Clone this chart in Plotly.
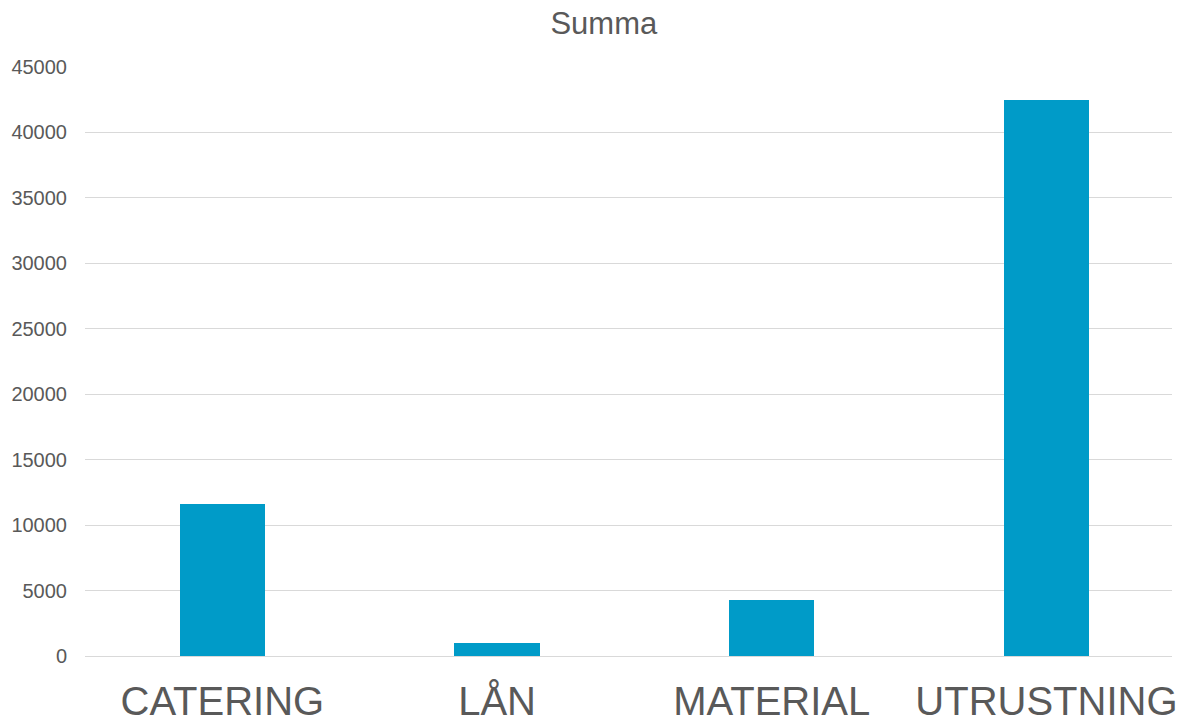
import plotly.graph_objects as go

categories = ["CATERING", "LÅN", "MATERIAL", "UTRUSTNING"]
values = [11600, 1000, 4300, 42450]
y_ticks = [0, 5000, 10000, 15000, 20000, 25000, 30000, 35000, 40000, 45000]

fig = go.Figure(go.Bar(
    x=categories, y=values,
    marker=dict(color="#009BC8", line=dict(width=0)),
    width=0.31,
))

fig.update_layout(
    width=1177, height=723,
    margin=dict(l=85, r=0, t=67, b=63.5),
    paper_bgcolor="white", plot_bgcolor="white",
    font=dict(family="Liberation Sans, Arial", color="#595959"),
    title=dict(text="Summa", x=0.513, xanchor="center", y=0.968, yanchor="middle",
               font=dict(size=31, color="#595959")),
    showlegend=False,
    bargap=0,
)
fig.update_xaxes(
    range=[-0.5, 3.457], showgrid=False, showline=False, zeroline=False,
    ticks="outside", ticklen=10, tickcolor="rgba(0,0,0,0)",
    tickfont=dict(size=40, color="#595959"),
)
fig.update_yaxes(
    range=[0, 45000], tickvals=y_ticks, ticktext=[str(v) for v in y_ticks],
    showgrid=True, gridcolor="#D9D9D9", gridwidth=1.3,
    zeroline=True, zerolinecolor="#D9D9D9", zerolinewidth=1.3,
    showline=False, ticks="outside", ticklen=13, tickcolor="rgba(0,0,0,0)",
    tickfont=dict(size=20, color="#595959"),
)

page_css = (
    "var d=document.documentElement,b=document.body;"
    "d.style.margin='0';d.style.padding='0';d.style.height='723px';d.style.overflow='hidden';"
    "b.style.margin='0';b.style.padding='0';b.style.height='723px';b.style.overflow='hidden';"
)
fig.write_html("out.html", config={"displayModeBar": False}, post_script=page_css)
